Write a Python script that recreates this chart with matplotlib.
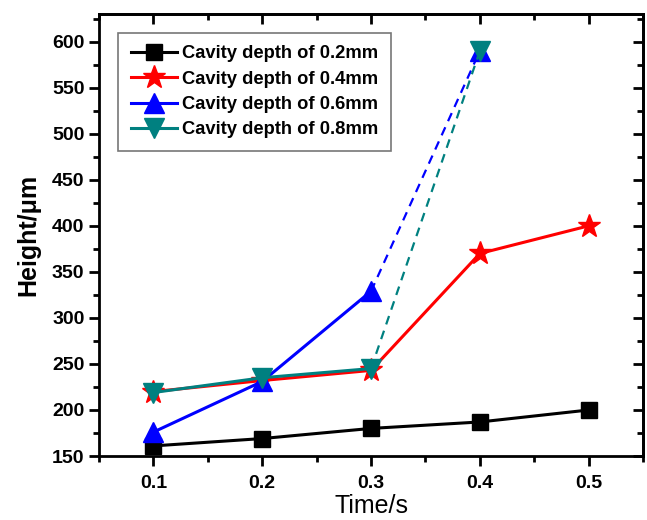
import matplotlib
matplotlib.use("Agg")
import matplotlib.pyplot as plt
from matplotlib.ticker import MultipleLocator

plt.rcParams["font.family"] = ["Liberation Sans", "DejaVu Sans"]

time = [0.1, 0.2, 0.3, 0.4, 0.5]
h_02 = [161, 169, 180, 187, 200]
h_04 = [220, 232, 243, 370, 400]
h_06 = [176, 231, 329, 590]
h_08 = [219, 235, 245, 590]

labels = ["Cavity depth of 0.2mm", "Cavity depth of 0.4mm",
          "Cavity depth of 0.6mm", "Cavity depth of 0.8mm"]
colors = ["black", "#ff0000", "#0000ff", "#008080"]
markers = ["s", "*", "^", "v"]
msizes = [12, 17, 14, 14]

fig = plt.figure(figsize=(6.47, 5.2), dpi=100)
ax = fig.add_axes([0.153, 0.123, 0.841, 0.85])

ax.plot(time, h_02, color=colors[0], lw=2.2, marker=markers[0], ms=msizes[0], label=labels[0])
ax.plot(time, h_04, color=colors[1], lw=2.2, marker=markers[1], ms=msizes[1], label=labels[1])

# 0.6 and 0.8 mm: solid up to 0.3 s, dashed to 0.4 s
for y, c, m, s, lab in [(h_06, colors[2], markers[2], msizes[2], labels[2]),
                        (h_08, colors[3], markers[3], msizes[3], labels[3])]:
    ax.plot(time[:3], y[:3], color=c, lw=2.2, marker=m, ms=s, label=lab)
    ax.plot(time[2:4], y[2:4], color=c, lw=1.6, ls=(0, (4, 3)))
    ax.plot(time[3:4], y[3:4], color=c, lw=0, marker=m, ms=s)

ax.set_xlim(0.05, 0.55)
ax.set_ylim(150, 630)
ax.xaxis.set_major_locator(MultipleLocator(0.1))
ax.xaxis.set_minor_locator(MultipleLocator(0.05))
ax.yaxis.set_major_locator(MultipleLocator(50))
ax.yaxis.set_minor_locator(MultipleLocator(25))
ax.tick_params(which="major", direction="out", length=7, width=2, labelsize=14)
ax.tick_params(which="minor", direction="out", length=4, width=2)
ax.tick_params(axis="x", pad=7)
for lab in ax.get_xticklabels() + ax.get_yticklabels():
    lab.set_fontweight("bold")

for sp in ax.spines.values():
    sp.set_linewidth(2)

# mirrored ticks pointing inward on top and right
top = ax.secondary_xaxis("top")
top.xaxis.set_major_locator(MultipleLocator(0.1))
top.xaxis.set_minor_locator(MultipleLocator(0.05))
top.tick_params(which="major", direction="in", length=7, width=2, labeltop=False)
top.tick_params(which="minor", direction="in", length=4, width=2)
top.spines["top"].set_linewidth(2)
right = ax.secondary_yaxis("right")
right.yaxis.set_major_locator(MultipleLocator(50))
right.yaxis.set_minor_locator(MultipleLocator(25))
right.tick_params(which="major", direction="in", length=7, width=2, labelright=False)
right.tick_params(which="minor", direction="in", length=4, width=2)
right.spines["right"].set_linewidth(2)

ax.set_xlabel("Time/s", fontsize=18, labelpad=1)
ax.set_ylabel("Height/\u03bcm", fontsize=18, fontweight="bold", labelpad=8)

leg = ax.legend(loc="upper left", bbox_to_anchor=(0.035, 0.958), frameon=True,
                fancybox=False, edgecolor="#555555", prop={"weight": "bold", "size": 13.2},
                handlelength=2.5, handletextpad=0.3, labelspacing=0.45, borderpad=0.7,
                borderaxespad=0)
leg.get_frame().set_linewidth(1.2)

fig.savefig("out.png", dpi=100)
